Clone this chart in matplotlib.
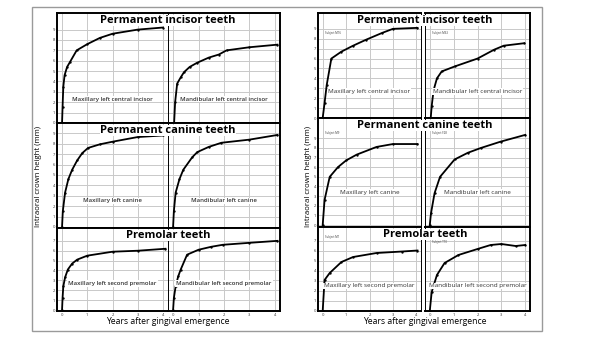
import matplotlib
matplotlib.use("Agg")
import matplotlib.pyplot as plt
from matplotlib.patches import Rectangle

plt.rcParams['font.family'] = ['Open Sans', 'DejaVu Sans']

W, H = 600, 338

rows = ["Permanent incisor teeth", "Permanent canine teeth", "Premolar teeth"]
labels = [["Maxillary left central incisor", "Mandibular left central incisor"],
          ["Maxillary left canine", "Mandibular left canine"],
          ["Maxillary left second premolar", "Mandibular left second premolar"]]
xticks = [0, 1, 2, 3, 4]
yticks = [list(range(0, 10)), list(range(0, 10)), list(range(0, 8))]

# left panel: fitted growth curves (years, mm)
fit_t = [
    [[0, 0.02, 0.05, 0.1, 0.2, 0.32, 0.58, 1.0, 1.5, 2.0, 3.0, 4.0],
     [0.04, 0.08, 0.16, 0.3, 0.43, 0.65, 0.94, 1.4, 1.8, 2.1, 3.0, 4.1]],
    [[0, 0.03, 0.12, 0.25, 0.4, 0.6, 0.8, 1.03, 1.5, 2.0, 3.0, 4.0],
     [0, 0.03, 0.1, 0.25, 0.4, 0.75, 0.95, 1.4, 1.9, 3.0, 4.1]],
    [[0, 0.02, 0.05, 0.12, 0.23, 0.4, 0.6, 1.0, 2.0, 3.0, 4.1],
     [0, 0.03, 0.1, 0.2, 0.3, 0.55, 1.0, 1.5, 1.95, 3.0, 4.1]],
]
fit_v = [
    [[0, 1.5, 3.5, 4.6, 5.4, 5.9, 7.0, 7.6, 8.2, 8.6, 9.0, 9.2],
     [0, 2.0, 3.8, 4.4, 4.9, 5.4, 5.8, 6.3, 6.6, 7.0, 7.3, 7.55]],
    [[0, 1.5, 3.3, 4.6, 5.5, 6.4, 7.1, 7.6, 7.95, 8.2, 8.65, 8.8],
     [0, 1.5, 3.3, 4.6, 5.5, 6.7, 7.2, 7.7, 8.1, 8.4, 8.85]],
    [[0, 1.2, 2.4, 3.3, 4.1, 4.7, 5.1, 5.5, 5.9, 6.0, 6.2],
     [0, 1.2, 2.4, 3.4, 4.1, 5.6, 6.1, 6.4, 6.6, 6.8, 7.0]],
]

# right panel: individual subjects (years, mm)
subjects = [["Subject M16", "Subject M63"], ["Subject M9", "Subject F28"], ["Subject M1", "Subject T10"]]
tag_y = [[8.6, 8.6], [9.5, 9.5], [7.4, 6.9]]
obs_t = [
    [[0, 0.08, 0.17, 0.37, 0.8, 1.3, 1.85, 2.55, 3.0, 4.05],
     [0.04, 0.08, 0.16, 0.3, 0.5, 1.04, 2.0, 2.7, 3.1, 3.96]],
    [[0, 0.08, 0.3, 0.65, 1.0, 1.45, 2.3, 3.0, 4.05],
     [0, 0.05, 0.2, 0.43, 1.04, 1.6, 2.15, 2.97, 4.0]],
    [[0, 0.08, 0.3, 0.8, 1.3, 2.3, 3.4, 4.05],
     [0, 0.08, 0.3, 0.62, 1.2, 2.0, 2.55, 3.0, 3.6, 4.0]],
]
obs_v = [
    [[0, 1.5, 3.3, 6.0, 6.7, 7.3, 7.9, 8.6, 9.0, 9.1],
     [0, 1.2, 2.8, 4.0, 4.7, 5.2, 6.0, 6.9, 7.3, 7.55]],
    [[0, 2.6, 5.0, 6.0, 6.7, 7.3, 8.1, 8.4, 8.4],
     [0, 1.2, 3.3, 5.0, 6.8, 7.5, 8.0, 8.65, 9.35]],
    [[0, 3.1, 3.8, 4.9, 5.4, 5.8, 5.95, 6.05],
     [0, 1.9, 3.6, 4.8, 5.6, 6.2, 6.6, 6.7, 6.5, 6.6]],
]

fig = plt.figure(figsize=(W / 100, H / 100), dpi=100)


def box(x0, y0, x1, y1):
    return [x0 / W, 1 - y1 / H, (x1 - x0) / W, (y1 - y0) / H]


fig.patches.append(Rectangle((32 / W, 1 - 331 / H), 510 / W, 324 / H, transform=fig.transFigure,
                             fill=False, edgecolor="#9a9a9a", lw=1.0))


def panel(cols, row_y, ylims, ts, vs, lab_y, label_size, label_weight, tags=None, ylab_x=0, title_x=0):
    for r in range(3):
        for c in range(2):
            x0, x1 = cols[c]
            ax = fig.add_axes(box(x0, row_y[r], x1, row_y[r + 1]))
            ax.set_xlim(-0.2, 4.2)
            ax.set_ylim(*ylims[r])
            ax.set_xticks(xticks)
            ax.set_yticks(yticks[r])
            ax.grid(True, color="#c9c9c9", lw=0.7)
            ax.set_axisbelow(True)
            ax.tick_params(length=0, labelsize=3, pad=1.2, colors="#333333")
            if c == 1:
                ax.set_yticklabels([])
            if r < 2:
                ax.set_xticklabels([])
            for side, sp in ax.spines.items():
                sp.set_color("black")
                sp.set_linewidth(1.4)
            ax.spines["right" if c == 0 else "left"].set_linewidth(0.7)
            ax.plot(ts[r][c], vs[r][c], color="black", lw=1.3, marker="o", ms=0.7)
            ax.text(2.0, lab_y[r], labels[r][c], ha="center", va="center", fontsize=label_size,
                    fontweight=label_weight, color="#333333",
                    bbox=dict(facecolor="white", edgecolor="none", pad=0.6))
            if tags:
                ax.text(0.1, tag_y[r][c], tags[r][c], fontsize=2, va="center", color="#333333")
        yc = (row_y[r] + 7.5) / H
        fig.text(title_x / W, 1 - yc, rows[r], ha="center", va="center", fontsize=8,
                 fontweight="bold", zorder=5,
                 bbox=dict(facecolor="white", edgecolor="none", pad=0))
    fig.text(ylab_x / W, 1 - 176 / H, "Intraoral crown height (mm)", rotation=90,
             ha="center", va="center", fontsize=5.6)
    fig.text(title_x / W, 1 - 322 / H, "Years after gingival emergence", ha="center", va="center",
             fontsize=6.2)


panel([(57, 168), (168, 280)], [13, 123, 228, 311],
      [(0, 10.6), (-0.1, 10.0), (-0.1, 8.3)], fit_t, fit_v,
      [2.3, 2.5, 2.7], 4.3, "semibold", ylab_x=39, title_x=168)

panel([(318, 421), (425, 530)], [13, 118, 227, 311],
      [(0, 10.6), (-0.2, 11.1), (0, 8.4)], obs_t, obs_v,
      [2.7, 3.4, 2.5], 4.6, "normal", tags=subjects, ylab_x=308, title_x=425)

fig.savefig("out.png", dpi=100)
